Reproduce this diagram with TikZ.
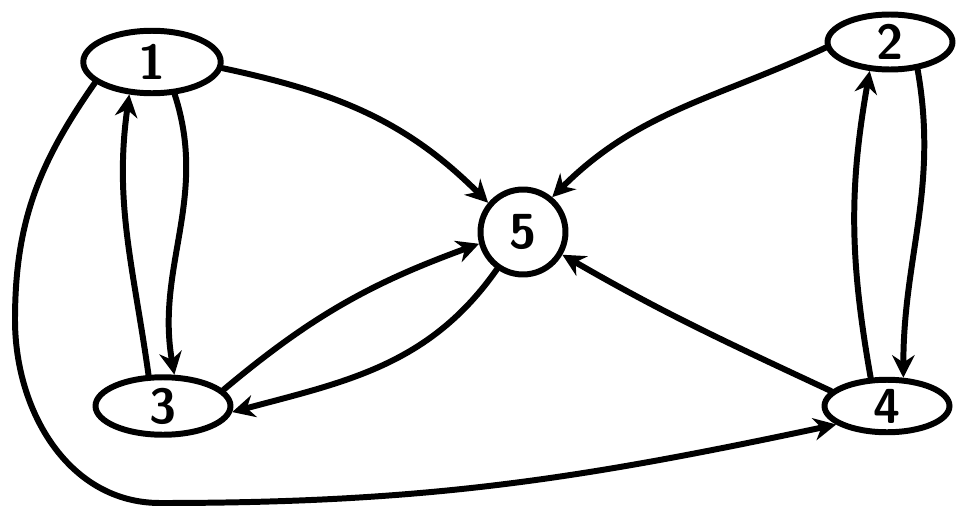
\documentclass[tikz,border=0pt]{standalone}
\usepackage{tikz}
\usetikzlibrary{positioning,arrows.meta,shapes.geometric}

\begin{document}
\begin{tikzpicture}[x=0.02cm,y=-0.02cm,
  vertex/.style={
    ellipse,
    draw,
    line width=3.4pt,
    fill=white,
    inner sep=0pt,
    minimum width=2.6cm,
    minimum height=1.15cm,
    font=\sffamily\bfseries\fontsize{28}{30}\selectfont
  },
  hub/.style={
    circle,
    draw,
    line width=3.4pt,
    inner sep=0pt,
    minimum size=1.7cm,
    font=\sffamily\bfseries\fontsize{28}{30}\selectfont
  },
  edge/.style={
    line width=3.4pt,
    line cap=round,
    -{Stealth[length=0.45cm,width=0.45cm]}
  }
]
\useasboundingbox (0,0) rectangle (958,514);
% the five states
\node[vertex,minimum width=2.75cm,minimum height=1.25cm] (1) at (152,62) {1};
  \node[vertex,minimum width=2.5cm,minimum height=1.1cm] (2) at (890,42) {2};
  \node[vertex,minimum width=2.7cm] (3) at (163,406) {3};
  \node[vertex,minimum width=2.5cm,minimum height=1.05cm] (4) at (887,406) {4};
  \node[hub] (5) at (523,232) {5};
  \coordinate (side) at (15,320);
  \coordinate (low) at (160,503);
% edges into and out of the hub
  \draw[edge] (1.-5) to[out=-12,in=135] (5.140);
  \draw[edge] (2.185) to[out=205,in=45] (5.50);
  \draw[edge] (3.15) to[out=40,in=200] (5.195);
  \draw[edge] (5.235) to[out=235,in=15] (3.-5);
  \draw[edge] (4.165) to[out=155,in=-30] (5.-30);
% the two side pairs
  \draw[edge] (1.-55) to[out=-72,in=100] (3.70);
  \draw[edge] (3.115) to[out=98,in=-98] (1.-125);
  \draw[edge] (2.-45) to[out=-80,in=90] (4.60);
  \draw[edge] (4.120) to[out=100,in=-100] (2.-125);
% long way round
  \draw[edge] (1.200) to[out=235,in=90] (side)
    to[out=-90,in=180] (low)
    to[out=0,in=192] (4.200);
\end{tikzpicture}
\end{document}
